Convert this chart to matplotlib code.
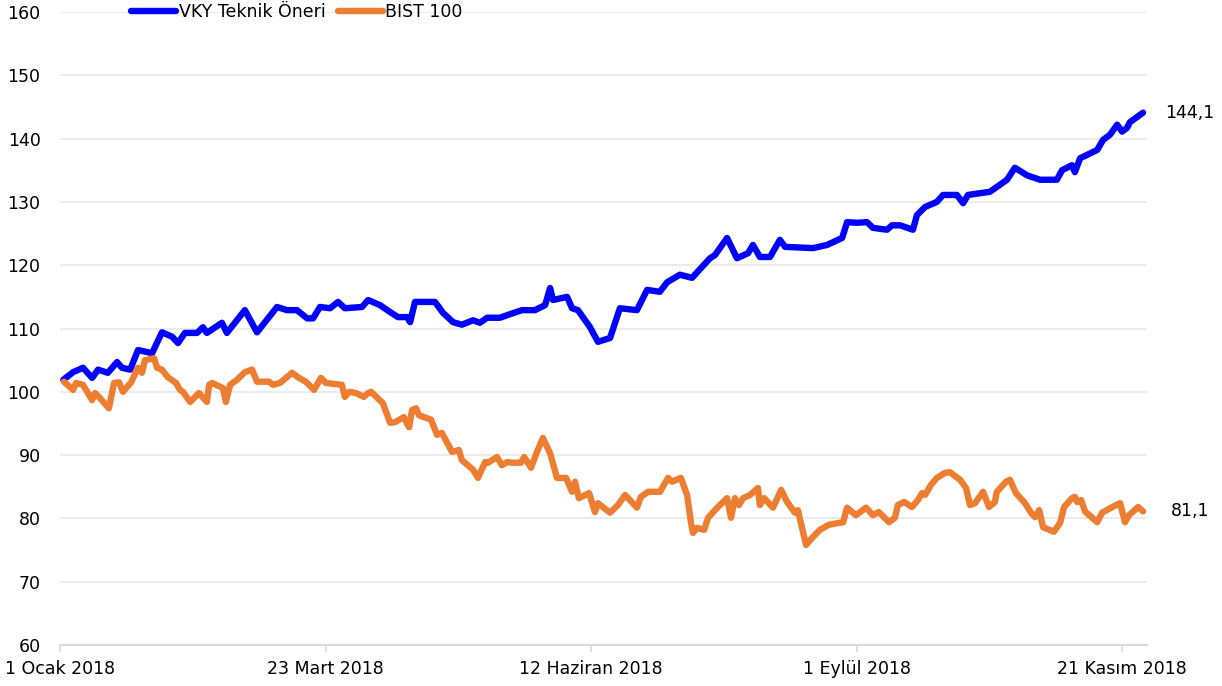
import numpy as np
import pandas as pd
import matplotlib
matplotlib.use("Agg")
import matplotlib.pyplot as plt

plt.rcParams['font.family'] = ['DejaVu Sans']

# ---- data (days since 1 Jan 2018, index values) ----
vky_days = [1, 4, 7, 9.8, 11.6, 14.6, 17.4, 18.9, 21.4, 23.8,
            28.1, 31.1, 34.2, 36, 38.1, 41.8, 43.6, 44.8, 49.4, 50.9,
            56.4, 60.1, 66.2, 69.2, 72.3, 75.4, 77.2, 79.3, 82.4, 84.8,
            86.9, 92.1, 94, 97.6, 100.7, 103.1, 105.9, 106.8, 108.3, 114.4,
            116.8, 119.9, 122.6, 126, 128.1, 130.3, 134.2, 136.4, 140.9, 144.9,
            148, 149.5, 150.4, 154.7, 156.2, 158, 161.7, 164.1, 167.8, 170.8,
            176, 179.1, 183, 185.2, 189.1, 192.8, 198.3, 199.8, 203.5, 206.5,
            209.9, 211.4, 213.5, 216.6, 219.6, 221.2, 229.7, 234, 238.6, 240.1,
            243.1, 246.2, 248, 252.3, 253.8, 256.3, 260.2, 261.4, 263.9, 267.5,
            269.4, 273.6, 275.5, 277, 283.7, 288.9, 291.3, 295, 299, 304.1,
            305.7, 308.7, 309.6, 311.2, 316.4, 318.2, 320.3, 322.5, 324, 325.5,
            326.4, 330.4]
vky_vals = [101.9, 103.1, 103.8, 102.2, 103.5, 103.0, 104.7, 103.8, 103.5, 106.6,
            106.1, 109.4, 108.7, 107.7, 109.3, 109.3, 110.2, 109.3, 110.9, 109.3,
            112.9, 109.4, 113.4, 112.9, 112.9, 111.6, 111.6, 113.4, 113.2, 114.2,
            113.2, 113.4, 114.5, 113.7, 112.6, 111.8, 111.8, 111.0, 114.2, 114.2,
            112.5, 111.0, 110.6, 111.3, 110.9, 111.7, 111.7, 112.1, 112.9, 112.9,
            113.7, 116.4, 114.5, 115.0, 113.2, 112.9, 110.2, 107.9, 108.5, 113.2,
            112.9, 116.1, 115.8, 117.3, 118.5, 118.0, 121.1, 121.6, 124.3, 121.1,
            121.9, 123.2, 121.3, 121.3, 124.0, 122.9, 122.7, 123.2, 124.3, 126.8,
            126.7, 126.8, 125.9, 125.6, 126.3, 126.3, 125.6, 127.9, 129.2, 130.0,
            131.1, 131.1, 129.8, 131.1, 131.6, 133.5, 135.4, 134.2, 133.5, 133.5,
            135.0, 135.8, 134.7, 136.9, 138.2, 139.8, 140.6, 142.2, 141.1, 141.7,
            142.6, 144.1]

bist_days = [1.2, 4.0, 4.9, 7.0, 9.8, 10.7, 12.2, 14.9, 16.5, 18.0,
             19.2, 21.7, 23.8, 25.0, 25.9, 28.7, 29.6, 31.1, 32.9, 35.4,
             36.6, 37.5, 39.7, 42.4, 44.8, 45.5, 46.4, 49.7, 50.6, 51.9,
             54.0, 56.4, 58.6, 60.1, 63.8, 65.0, 67.1, 70.8, 72.9, 75.0,
             77.5, 79.6, 81.1, 86.0, 86.9, 88.2, 90.3, 92.7, 94.0, 94.9,
             98.5, 100.7, 102.2, 104.9, 106.5, 107.4, 108.6, 109.5, 113.2, 115.0,
             116.5, 119.6, 121.7, 122.6, 126.0, 127.5, 129.7, 130.6, 133.3, 134.8,
             136.4, 137.9, 140.6, 141.6, 143.7, 145.5, 147.3, 149.5, 151.6, 154.4,
             156.2, 157.1, 158.3, 161.4, 163.2, 164.1, 167.8, 170.2, 172.4, 176.0,
             177.2, 179.4, 183.0, 185.5, 186.7, 189.4, 191.3, 192.5, 193.1, 194.3,
             196.5, 197.7, 200.7, 203.5, 204.7, 205.9, 207.1, 208.4, 210.5, 212.9,
             213.5, 214.8, 217.5, 220.0, 221.8, 224.2, 225.1, 227.6, 229.4, 231.8,
             234.6, 238.9, 240.1, 242.8, 245.9, 248.0, 249.8, 252.9, 254.7, 255.6,
             257.5, 259.9, 261.7, 263.0, 263.9, 265.7, 267.5, 270.0, 271.5, 274.6,
             276.4, 277.6, 279.1, 281.6, 283.4, 285.2, 285.8, 288.6, 289.8, 291.6,
             294.4, 296.2, 297.4, 298.7, 299.9, 303.2, 305.1, 306.3, 308.7, 309.6,
             310.3, 311.5, 312.7, 316.4, 317.9, 322.1, 323.4, 324.9, 326.1, 328.9,
             330.4]
bist_vals = [101.6, 100.3, 101.4, 101.1, 98.7, 99.8, 99.0, 97.4, 101.4, 101.5,
             100.0, 101.5, 103.8, 103.0, 105.0, 105.3, 103.8, 103.5, 102.3, 101.4,
             100.3, 100.0, 98.4, 99.8, 98.4, 101.1, 101.4, 100.6, 98.4, 101.1,
             101.9, 103.1, 103.5, 101.6, 101.6, 101.1, 101.4, 103.0, 102.2, 101.6,
             100.3, 102.2, 101.4, 101.1, 99.2, 100.0, 99.8, 99.2, 99.8, 100.0,
             98.2, 95.1, 95.2, 96.0, 94.4, 97.1, 97.4, 96.3, 95.6, 93.2,
             93.5, 90.5, 90.8, 89.2, 87.7, 86.4, 88.9, 88.8, 89.7, 88.4,
             88.9, 88.8, 88.8, 89.7, 88.0, 90.5, 92.7, 90.3, 86.4, 86.4,
             84.2, 85.8, 83.2, 84.0, 81.0, 82.4, 80.9, 82.1, 83.7, 81.7,
             83.4, 84.2, 84.2, 86.4, 85.8, 86.4, 83.7, 79.3, 77.7, 78.5,
             78.2, 80.1, 81.8, 83.2, 80.1, 83.2, 82.1, 83.2, 83.7, 84.8,
             82.1, 83.2, 81.7, 84.5, 82.6, 80.9, 81.3, 75.8, 76.9, 78.2,
             79.0, 79.4, 81.7, 80.5, 81.7, 80.5, 81.0, 79.4, 80.1, 82.1,
             82.6, 81.8, 82.9, 84.0, 83.7, 85.3, 86.4, 87.2, 87.3, 86.1,
             84.8, 82.1, 82.4, 84.2, 81.8, 82.6, 84.2, 85.8, 86.1, 84.0,
             82.4, 80.9, 80.2, 81.3, 78.6, 77.9, 79.3, 81.8, 83.2, 83.4,
             82.6, 82.9, 81.1, 79.4, 80.9, 82.1, 82.4, 79.4, 80.5, 81.8,
             81.1]

series_names = ["VKY Teknik Öneri", "BIST 100"]
tick_dates = ["2018-01-01", "2018-03-23", "2018-06-12", "2018-09-01", "2018-11-21"]
tick_labels = ["1 Ocak 2018", "23 Mart 2018", "12 Haziran 2018", "1 Eylül 2018", "21 Kasım 2018"]
y_ticks = list(range(60, 161, 10))

# ---- figure ----
W, H = 1222, 686
fig = plt.figure(figsize=(W / 100, H / 100), dpi=100)
ax = fig.add_axes([60 / W, 1 - 645 / H, (1147 - 60) / W, (645 - 12) / H])

start = pd.Timestamp("2018-01-01")
vky_x = start + pd.to_timedelta(vky_days, unit="D")
bist_x = start + pd.to_timedelta(bist_days, unit="D")

blue = "#0000FF"
orange = "#ED7D31"
lw = 4.6
ax.plot(vky_x, vky_vals, color=blue, lw=lw, solid_capstyle="round",
        solid_joinstyle="round", label=series_names[0], zorder=3)
ax.plot(bist_x, bist_vals, color=orange, lw=lw, solid_capstyle="round",
        solid_joinstyle="round", label=series_names[1], zorder=3)

ax.set_xlim(start, start + pd.Timedelta(days=331.6))
ax.set_ylim(60, 160)
ax.set_yticks(y_ticks)
ax.set_yticklabels([str(v) for v in y_ticks])
ax.set_xticks(pd.to_datetime(tick_dates))
ax.set_xticklabels(tick_labels)

ax.yaxis.grid(True, color="#EBEBEB", lw=1.3, zorder=0)
ax.set_axisbelow(True)
for s in ["top", "right", "left"]:
    ax.spines[s].set_visible(False)
ax.spines["bottom"].set_color("#D9D9D9")
ax.spines["bottom"].set_linewidth(1.5)

ax.tick_params(axis="y", length=0, pad=14, labelsize=12.5, labelcolor="black")
ax.tick_params(axis="x", direction="out", length=5, width=1.2, color="#D9D9D9",
               pad=6, labelsize=12.5, labelcolor="black")

# end labels
ax.annotate(f"{vky_vals[-1]:.1f}".replace(".", ","), xy=(vky_x[-1], vky_vals[-1]),
            xytext=(22, 0), textcoords="offset pixels", ha="left", va="center",
            fontsize=12.5, annotation_clip=False)
ax.annotate(f"{bist_vals[-1]:.1f}".replace(".", ","), xy=(bist_x[-1], bist_vals[-1]),
            xytext=(28, 0), textcoords="offset pixels", ha="left", va="center",
            fontsize=12.5, annotation_clip=False)

leg = fig.legend(loc="center left", bbox_to_anchor=(131 / W, 1 - 12 / H),
                 ncol=2, frameon=False, fontsize=12.5, handlelength=2.6,
                 handletextpad=0.15, columnspacing=0.7, borderpad=0,
                 borderaxespad=0)
for line in leg.get_lines():
    line.set_solid_capstyle("round")
    line.set_linewidth(lw)

fig.savefig("out.png", dpi=100)
